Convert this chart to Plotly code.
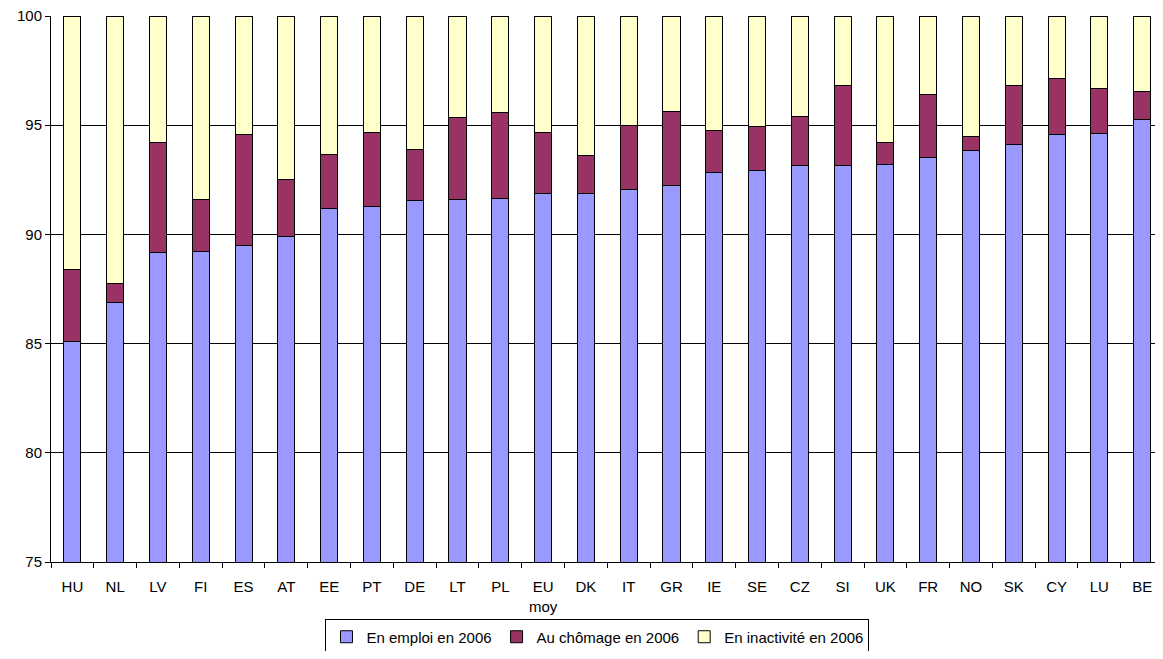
import plotly.graph_objects as go

# Situation en 2006 (en %), pays classés par part en emploi
pays = ['HU', 'NL', 'LV', 'FI', 'ES', 'AT', 'EE', 'PT', 'DE', 'LT', 'PL', 'EU<br>moy', 'DK',
        'IT', 'GR', 'IE', 'SE', 'CZ', 'SI', 'UK', 'FR', 'NO', 'SK', 'CY', 'LU', 'BE']

en_emploi = [85.09, 86.89, 89.16, 89.21, 89.50, 89.89, 91.19, 91.28, 91.55, 91.60, 91.66, 91.87, 91.87,
             92.06, 92.26, 92.84, 92.94, 93.16, 93.16, 93.19, 93.54, 93.84, 94.12, 94.57, 94.60, 95.27]
au_chomage = [3.32, 0.84, 5.03, 2.39, 5.07, 2.64, 2.47, 3.37, 2.35, 3.77, 3.92, 2.81, 1.76,
              2.92, 3.38, 1.90, 2.01, 2.24, 3.64, 1.00, 2.88, 0.63, 2.69, 2.58, 2.06, 1.28]
en_inactivite = [11.59, 12.27, 5.81, 8.40, 5.43, 7.47, 6.34, 5.35, 6.10, 4.63, 4.42, 5.32, 6.37,
                 5.02, 4.36, 5.26, 5.05, 4.60, 3.20, 5.81, 3.58, 5.53, 3.19, 2.85, 3.34, 3.45]

series = [
    ('En emploi en 2006', en_emploi, '#9999FF'),
    ('Au chômage en 2006', au_chomage, '#993366'),
    ('En inactivité en 2006', en_inactivite, '#FFFFCC'),
]

fig = go.Figure()
for nom, valeurs, couleur in series:
    fig.add_trace(go.Bar(x=pays, y=valeurs, name=nom,
                         marker=dict(color=couleur, line=dict(color='black', width=1))))

# the page body has an 8px margin, so the figure is sized to fit inside the window
fig.update_layout(
    barmode='stack',
    bargap=0.6,
    width=1147, height=643,
    margin=dict(l=43, r=0, t=8, b=89, autoexpand=False),
    plot_bgcolor='white',
    paper_bgcolor='white',
    font=dict(family='Liberation Sans, Arial', size=15, color='black'),
    showlegend=True,
    legend=dict(orientation='h', x=0.495, xanchor='center',
                yref='container', y=0.049, yanchor='top',
                bordercolor='black', borderwidth=1, font=dict(size=15),
                itemwidth=30, traceorder='normal'),
)
fig.update_yaxes(range=[75, 100], tickvals=[75, 80, 85, 90, 95, 100],
                 showgrid=True, gridcolor='black', gridwidth=1,
                 showline=True, linecolor='black', linewidth=1, automargin=False,
                 ticklabeloverflow='allow',
                 ticks='outside', ticklen=5, tickcolor='black', zeroline=False)
fig.update_xaxes(range=[-0.5, 25.3], showline=True, linecolor='black', linewidth=1,
                 ticks='outside', tickson='boundaries', ticklen=5, tickcolor='black',
                 tickangle=0, ticklabelstandoff=11, automargin=False)

fig.write_html("out.html")
